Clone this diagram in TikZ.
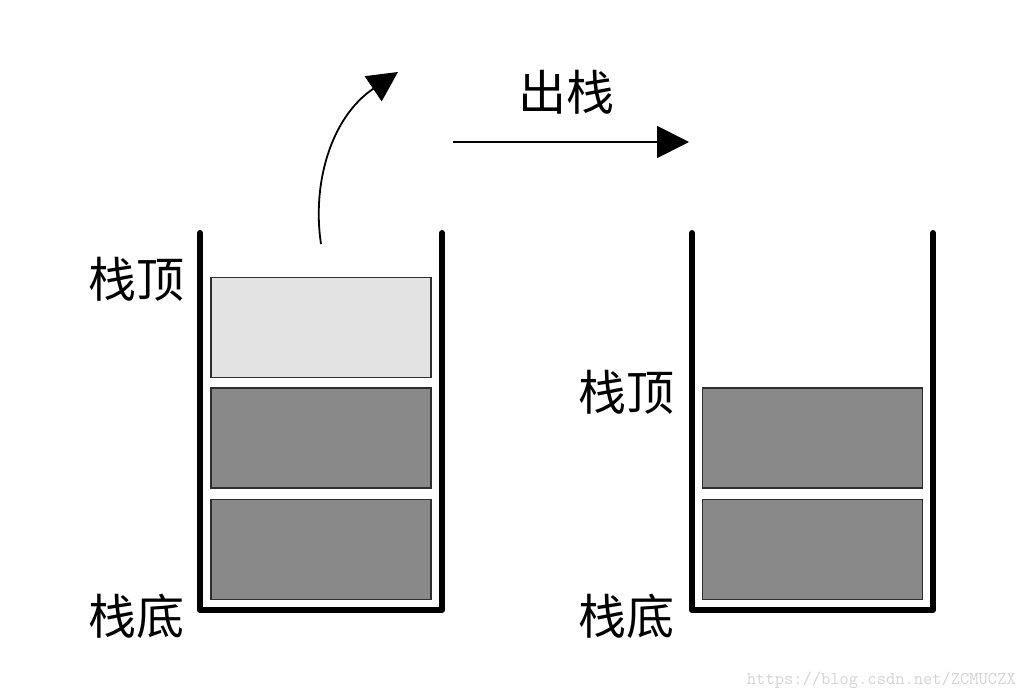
\documentclass[tikz,border=0pt]{standalone}
\usepackage{fontspec}
\newfontfamily\cjk{Noto Sans CJK SC}
\usetikzlibrary{arrows.meta}
\definecolor{lightcell}{HTML}{E3E3E3}
\definecolor{darkcell}{HTML}{898989}
\definecolor{cellline}{HTML}{2E2E2E}
\definecolor{markgray}{HTML}{D4D4D4}
\tikzset{
  cell/.style={draw=cellline,line width=1.5pt,minimum width=220pt,minimum height=100pt,inner sep=0pt,outer sep=0pt},
  wall/.style={line width=6pt,line cap=round,line join=round},
  sidetext/.style={font=\cjk\fontsize{48}{48}\selectfont,inner sep=0pt}
}
\begin{document}
\begin{tikzpicture}[x=1pt,y=-1pt]
\useasboundingbox[fill=white] (0,0) rectangle (1028,700);

% left stack, before the pop
\draw[wall] (200,233) -- (200,610) -- (442,610) -- (442,233);
\node[cell,fill=lightcell] (lcell3) at (321,327.5) {};
\node[cell,fill=darkcell] (lcell2) at (321,438) {};
\node[cell,fill=darkcell] (lcell1) at (321,549.5) {};
\node[sidetext] (ltop) at (136,279) {栈顶};
\node[sidetext] (lbottom) at (136,616) {栈底};

% the popped element leaves
\coordinate (popstart) at (321,244);
\coordinate (popend) at (398,72);
\draw[line width=1.8pt,-{Triangle[length=30pt,width=30pt]}] (popstart) .. controls (312,185) and (330,118) .. (popend);

% pop
\coordinate (opstart) at (453,142);
\coordinate (opend) at (689,142);
\draw[line width=1.8pt,-{Triangle[length=32pt,width=32pt]}] (opstart) -- (opend);
\node[sidetext] (op) at (566,92) {出栈};

% right stack, after the pop
\draw[wall] (692,233) -- (692,610) -- (933,610) -- (933,233);
\node[cell,fill=darkcell] (rcell2) at (812.5,438) {};
\node[cell,fill=darkcell] (rcell1) at (812.5,549.5) {};
\node[sidetext] (rtop) at (626,392) {栈顶};
\node[sidetext] (rbottom) at (626,616) {栈底};

\node[font=\ttfamily\fontsize{18}{18}\selectfont,text=markgray,anchor=east,inner sep=0pt] (mark) at (1016,680) {https://blog.csdn.net/ZCMUCZX};
\end{tikzpicture}
\end{document}
